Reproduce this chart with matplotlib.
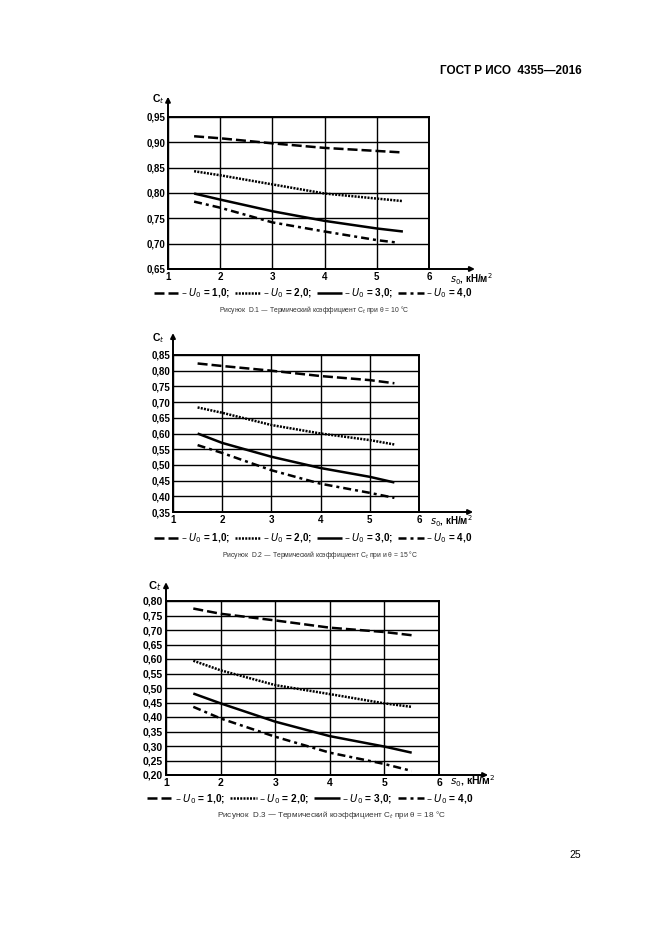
"""
GOST R ISO 4355-2016, page 25: thermal coefficient C_t, figures D.1-D.3
"""

import matplotlib
matplotlib.use("Agg")
import matplotlib.pyplot as plt
import numpy as np

plt.rcParams["font.family"] = ["Liberation Sans", "DejaVu Sans"]

# s0, kN/m2
s0 = [1.5, 2, 3, 4, 5, 5.5]
s0_short = [1.5, 2, 3, 4, 5, 5.4]

# figure D.1, theta = 10 C
d1_u1 = [0.912, 0.908, 0.898, 0.889, 0.883, 0.880]
d1_u2 = [0.843, 0.835, 0.817, 0.799, 0.789, 0.784]
d1_u3 = [0.799, 0.787, 0.764, 0.745, 0.730, 0.724]
d1_u4 = [0.783, 0.771, 0.742, 0.724, 0.707, 0.702]

# figure D.2, theta = 15 C
d2_u1 = [0.823, 0.815, 0.800, 0.783, 0.770, 0.760]
d2_u2 = [0.683, 0.666, 0.627, 0.600, 0.579, 0.565]
d2_u3 = [0.600, 0.570, 0.526, 0.490, 0.462, 0.444]
d2_u4 = [0.563, 0.538, 0.483, 0.440, 0.411, 0.395]

# figure D.3, theta = 18 C
d3_u1 = [0.774, 0.756, 0.733, 0.708, 0.693, 0.682]
d3_u2 = [0.594, 0.561, 0.510, 0.479, 0.447, 0.435]
d3_u3 = [0.481, 0.447, 0.384, 0.334, 0.298, 0.277]
d3_u4 = [0.435, 0.395, 0.332, 0.277, 0.238, 0.214]

u0_labels = [r"– $U_0$ = 1,0;", r"– $U_0$ = 2,0;", r"– $U_0$ = 3,0;", r"– $U_0$ = 4,0"]

styles = [(0, (4, 1.6)), (0, (0.8, 0.5)), "-", (0, (3.2, 1.6, 1.2, 1.6))]

captions = [
    "Рисунок  D.1 — Термический коэффициент C$_t$ при θ = 10 °C",
    "Рисунок  D.2 — Термический коэффициент C$_t$ при и θ = 15 °C",
    "Рисунок  D.3 — Термический коэффициент C$_t$ при θ = 18 °C",
]

W, H = 661, 936
fig = plt.figure(figsize=(W / 100, H / 100), dpi=100)


def px_axes(left, right, top, bottom):
    return fig.add_axes([left / W, 1 - bottom / H, (right - left) / W, (bottom - top) / H])


def draw_chart(ax, xs, series, ymin, ymax, xarrow, yarrow, fs, xlab_pos, ylab_pos):
    handles = []
    for x, y, ls in zip(xs, series, styles):
        (ln,) = ax.plot(x, y, color="black", lw=1.8, linestyle=ls, solid_capstyle="butt")
        handles.append(ln)
    ax.set_xlim(1, 6)
    ax.set_ylim(ymin, ymax)
    ax.set_xticks(range(1, 7))
    ax.set_xticklabels([str(i) for i in range(1, 7)], fontsize=fs, fontweight="bold")
    yt = np.round(np.arange(ymin, ymax + 0.001, 0.05), 2)
    ax.set_yticks(yt)
    ax.set_yticklabels([f"{v:.2f}".replace(".", ",") for v in yt], fontsize=fs, fontweight="bold")
    ax.tick_params(length=0, pad=2)
    ax.grid(True, color="black", lw=1.0)
    for sp in ax.spines.values():
        sp.set_linewidth(1.4)
    # axis arrows
    ax.annotate("", xy=(xarrow, ymin), xytext=(1, ymin), annotation_clip=False,
                arrowprops=dict(arrowstyle="-|>", lw=1.4, color="black", mutation_scale=7,
                                shrinkA=0, shrinkB=0))
    ax.annotate("", xy=(1, yarrow), xytext=(1, ymin), annotation_clip=False,
                arrowprops=dict(arrowstyle="-|>", lw=1.4, color="black", mutation_scale=7,
                                shrinkA=0, shrinkB=0))
    fig.text(xlab_pos[0] / W, 1 - xlab_pos[1] / H, r"$s_0$, кН/м$^2$", fontsize=fs,
             fontweight="bold", ha="left", va="center")
    fig.text(ylab_pos[0] / W, 1 - ylab_pos[1] / H, r"C$_t$", fontsize=fs + 0.5,
             fontweight="bold", ha="center", va="center")
    return handles


ax1 = px_axes(168, 429, 117, 269)
h1 = draw_chart(ax1, [s0, s0, s0, s0_short], [d1_u1, d1_u2, d1_u3, d1_u4],
                0.65, 0.95, 6.88, 0.99, 7, (450, 279), (158, 99))

ax2 = px_axes(173, 419, 355, 512)
h2 = draw_chart(ax2, [s0] * 4, [d2_u1, d2_u2, d2_u3, d2_u4],
                0.35, 0.85, 7.1, 0.92, 7, (430, 521), (158, 338))

ax3 = px_axes(166, 439, 601, 775)
h3 = draw_chart(ax3, [s0] * 4, [d3_u1, d3_u2, d3_u3, d3_u4],
                0.20, 0.80, 6.9, 0.865, 7.5, (450, 781), (155, 586))

for h, cx, cy, fs in [(h1, 313, 293, 7.1), (h2, 313, 538, 7.1), (h3, 310, 799, 7.3)]:
    fig.legend(h, u0_labels, loc="center", bbox_to_anchor=(cx / W, 1 - cy / H), ncol=4,
               frameon=False, handlelength=2.6, handletextpad=0.2, columnspacing=0.5,
               prop=dict(size=fs, weight="bold"))

for cap, cx, cy, fs in zip(captions, [314, 320, 331], [310, 555, 815], [4.9, 4.9, 5.9]):
    fig.text(cx / W, 1 - cy / H, cap, fontsize=fs, color="#333333", ha="center", va="center")

fig.text(582 / W, 1 - 71 / H, "ГОСТ Р ИСО  4355—2016", fontsize=8.5, fontweight="bold",
         ha="right", va="center")
fig.text(581 / W, 1 - 855 / H, "25", fontsize=7.5, ha="right", va="center")

fig.savefig("out.png", dpi=100)
print("DONE")
